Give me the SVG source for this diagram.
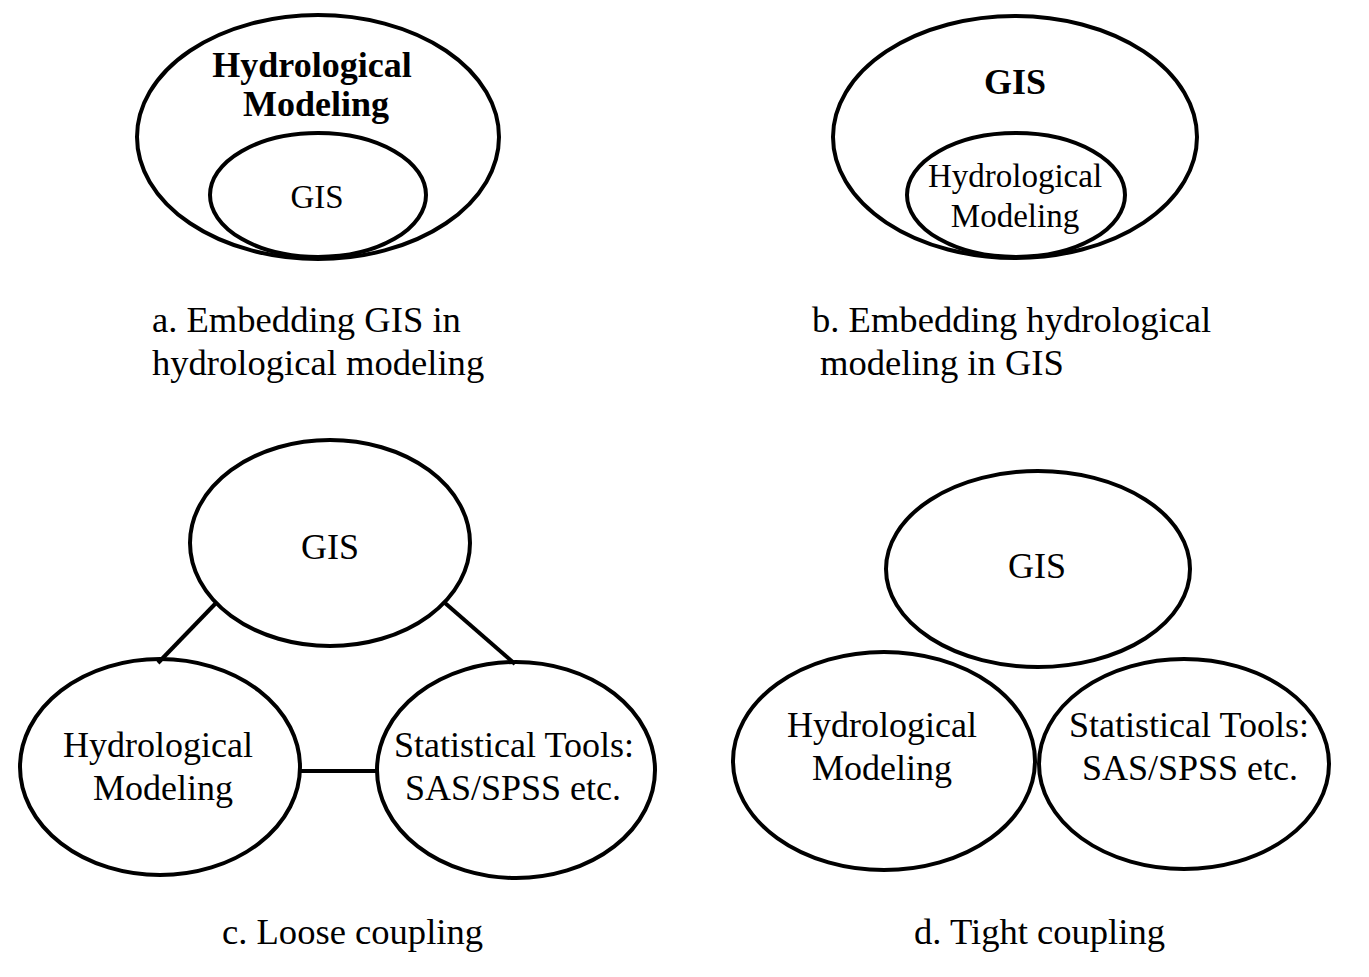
<svg xmlns="http://www.w3.org/2000/svg" width="1369" height="977" viewBox="0 0 1369 977">
<style>
.e{fill:none;stroke:#000;stroke-width:4}
.c{stroke:#000;stroke-width:4;fill:none}
text{font-family:"Liberation Serif","Times New Roman",serif;fill:#000;text-anchor:middle}
.b{font-weight:bold;font-size:36px}
.r{font-size:36px}
.s{font-size:33px}
.l{font-size:36.6px;text-anchor:start}
</style>
<rect width="1369" height="977" fill="#fff"/>
<g id="panel-a">
<g id="a-hydro"><ellipse class="e" cx="318" cy="137" rx="181" ry="122"/><text class="b" x="312" y="77">Hydrological</text><text class="b" x="316" y="116">Modeling</text></g>
<g id="a-gis"><ellipse class="e" cx="318" cy="195" rx="108" ry="62"/><text class="s" x="317" y="208">GIS</text></g>
<text class="l" x="152" y="332">a. Embedding GIS in</text>
<text class="l" x="152" y="375">hydrological modeling</text>
</g>
<g id="panel-b">
<g id="b-gis"><ellipse class="e" cx="1015" cy="137" rx="182" ry="121"/><text class="b" x="1015" y="94">GIS</text></g>
<g id="b-hydro"><ellipse class="e" cx="1016" cy="195" rx="109" ry="62"/><text class="s" x="1015" y="187">Hydrological</text><text class="s" x="1015" y="227">Modeling</text></g>
<text class="l" x="812" y="332">b. Embedding hydrological</text>
<text class="l" x="820" y="375">modeling in GIS</text>
</g>
<g id="connectors">
<line class="c" x1="216" y1="603" x2="158" y2="663"/>
<line class="c" x1="445" y1="603" x2="515" y2="664"/>
<line class="c" x1="299" y1="771" x2="378" y2="771"/>
</g>
<g id="c-gis"><ellipse class="e" cx="330" cy="543" rx="140" ry="103"/><text class="r" x="330" y="559">GIS</text></g>
<g id="c-hydro"><ellipse class="e" cx="160" cy="767" rx="140" ry="108"/><text class="r" x="158" y="757">Hydrological</text><text class="r" x="163" y="800">Modeling</text></g>
<g id="c-stat"><ellipse class="e" cx="516" cy="770" rx="139" ry="108"/><text class="r" x="514" y="757">Statistical Tools:</text><text class="r" x="513" y="800">SAS/SPSS etc.</text></g>
<text class="l" x="222" y="944">c. Loose coupling</text>
<g id="d-gis"><ellipse class="e" cx="1038" cy="569" rx="152" ry="98"/><text class="r" x="1037" y="578">GIS</text></g>
<g id="d-hydro"><ellipse class="e" cx="884" cy="761" rx="151" ry="109"/><text class="r" x="882" y="737">Hydrological</text><text class="r" x="882" y="780">Modeling</text></g>
<g id="d-stat"><ellipse class="e" cx="1184" cy="764" rx="145" ry="105"/><text class="r" x="1189" y="737">Statistical Tools:</text><text class="r" x="1190" y="780">SAS/SPSS etc.</text></g>
<text class="l" x="914" y="944">d. Tight coupling</text>
</svg>
